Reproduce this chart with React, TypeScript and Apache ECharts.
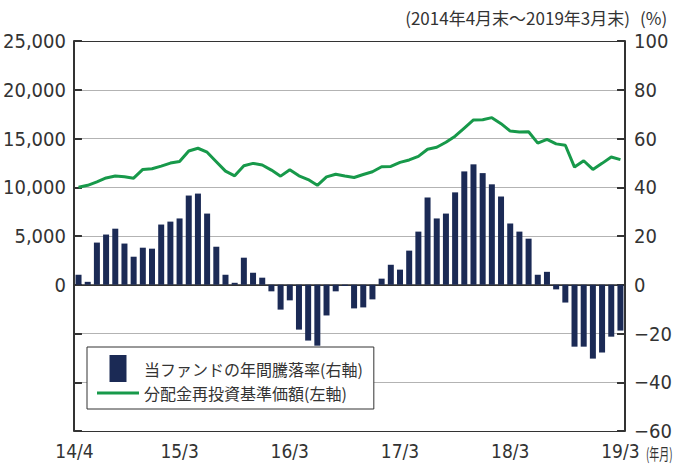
import React, { useEffect, useRef } from 'react';
import * as echarts from 'echarts';

const categories = [
  '14/4', '14/5', '14/6', '14/7', '14/8', '14/9', '14/10', '14/11', '14/12', '15/1', '15/2', '15/3',
  '15/4', '15/5', '15/6', '15/7', '15/8', '15/9', '15/10', '15/11', '15/12', '16/1', '16/2', '16/3',
  '16/4', '16/5', '16/6', '16/7', '16/8', '16/9', '16/10', '16/11', '16/12', '17/1', '17/2', '17/3',
  '17/4', '17/5', '17/6', '17/7', '17/8', '17/9', '17/10', '17/11', '17/12', '18/1', '18/2', '18/3',
  '18/4', '18/5', '18/6', '18/7', '18/8', '18/9', '18/10', '18/11', '18/12', '19/1', '19/2', '19/3',
];

const shownLabels = ['14/4', '15/3', '16/3', '17/3', '18/3', '19/3'];

// 当ファンドの年間騰落率 (%), right axis
const annualReturn = [
  4.1, 1.2, 17.3, 20.6, 23.0, 16.9, 11.5, 15.2, 14.8, 24.7, 25.9, 27.2,
  36.6, 37.4, 29.2, 15.6, 4.1, 0.8, 11.1, 4.9, 2.9, -2.7, -10.2, -6.4,
  -18.4, -22.9, -25.0, -12.6, -2.7, -0.5, -9.7, -9.3, -6.0, 2.5, 8.2, 6.2,
  14.0, 21.8, 35.8, 27.2, 29.2, 37.9, 46.5, 49.4, 45.8, 41.2, 36.2, 25.1,
  21.8, 18.9, 4.1, 5.3, -1.9, -7.3, -25.4, -25.4, -30.3, -27.8, -21.3, -18.8,
];

// 分配金再投資基準価額 (円), left axis
const navReinvested = [
  10000, 10200, 10550, 10950, 11150, 11070, 10930, 11830, 11900, 12170, 12480, 12650,
  13720, 14000, 13590, 12620, 11650, 11170, 12200, 12450, 12280, 11760, 11140, 11800,
  11170, 10790, 10200, 11070, 11340, 11150, 11000, 11310, 11590, 12100, 12140, 12550,
  12800, 13170, 13900, 14100, 14620, 15240, 16070, 16900, 16920, 17140, 16520, 15760,
  15660, 15690, 14520, 14900, 14450, 14310, 12070, 12720, 11830, 12450, 13100, 12830,
];

const seriesNames = ['当ファンドの年間騰落率(右軸)', '分配金再投資基準価額(左軸)'];
const titleText = '(2014年4月末～2019年3月末)';
const unitText = '(%)';
const xUnitText = '(年月)';

const NUM_FONT = "'Liberation Sans Narrow','DejaVu Sans Condensed',Roboto,sans-serif";
const CJK_FONT = "'Noto Sans CJK JP','Noto Sans',sans-serif";
const TEXT_COLOR = '#333';
const BAR_COLOR = '#1b2a55';
const LINE_COLOR = '#17994a';

export default function App() {
  const ref = useRef<HTMLDivElement>(null);

  useEffect(() => {
    if (!ref.current) return;
    const chart = echarts.init(ref.current, undefined, { renderer: 'svg' });
    const option: any = {
      animation: false,
      textStyle: { fontFamily: CJK_FONT },
      title: [
        {
          text: titleText,
          right: 45,
          top: 9,
          padding: 0,
          textStyle: { fontSize: 17, fontWeight: 'normal', color: TEXT_COLOR, fontFamily: CJK_FONT },
        },
        {
          text: unitText,
          left: 640,
          top: 9,
          padding: 0,
          textStyle: { fontSize: 17, fontWeight: 'normal', color: TEXT_COLOR, fontFamily: CJK_FONT },
        },
      ],
      grid: { left: 69, right: 41, top: 41, bottom: 38 },
      legend: {
        left: 87,
        top: 347,
        orient: 'vertical',
        padding: [8, 11, 8, 10],
        itemGap: 3,
        itemWidth: 42,
        itemHeight: 27,
        backgroundColor: '#fff',
        borderColor: '#333',
        borderWidth: 1,
        borderRadius: 0,
        textStyle: { fontSize: 16, color: TEXT_COLOR, fontFamily: CJK_FONT },
        data: [
          { name: seriesNames[0], icon: 'path://M0,0H17V27H0Z' },
          { name: seriesNames[1], icon: 'path://M0,0H42V3H0Z' },
        ],
      },
      graphic: [
        {
          type: 'text',
          x: 646,
          y: 453,
          scaleX: 0.62,
          style: {
            text: xUnitText,
            fontSize: 16,
            fontFamily: CJK_FONT,
            fill: TEXT_COLOR,
            verticalAlign: 'middle',
            align: 'left',
          },
        },
      ],
      xAxis: {
        type: 'category',
        data: categories,
        boundaryGap: true,
        axisLine: { lineStyle: { color: '#333', width: 1.5 } },
        axisTick: { show: false },
        splitLine: { show: false },
        axisLabel: {
          interval: (_i: number, v: string) => shownLabels.includes(v),
          formatter: (v: string) => (v === categories[0] ? '{a|' + v + '}' : v),
          rich: {
            a: { padding: [0, 8, 0, 0], fontSize: 19, fontFamily: NUM_FONT, color: TEXT_COLOR },
          },
          margin: 10,
          fontSize: 19,
          fontFamily: NUM_FONT,
          color: TEXT_COLOR,
        },
      },
      yAxis: [
        {
          type: 'value',
          position: 'left',
          min: -15000,
          max: 25000,
          interval: 5000,
          axisLine: { show: true, lineStyle: { color: '#333', width: 2 } },
          axisTick: { show: true, inside: true, length: 8, lineStyle: { color: '#333', width: 2 } },
          axisLabel: {
            formatter: (v: number) => (v >= 0 ? v.toLocaleString('en-US') : ''),
            margin: 8,
            fontSize: 20,
            fontFamily: NUM_FONT,
            color: TEXT_COLOR,
          },
          splitLine: {
            show: true,
            lineStyle: {
              width: 1,
              color: ['#333', '#b3b3b3', '#b3b3b3', '#333', '#b3b3b3', '#b3b3b3', '#b3b3b3', '#b3b3b3', '#333'],
            },
          },
        },
        {
          type: 'value',
          position: 'right',
          min: -60,
          max: 100,
          interval: 20,
          axisLine: { show: true, lineStyle: { color: '#333', width: 2 } },
          axisTick: { show: true, inside: true, length: 8, lineStyle: { color: '#333', width: 2 } },
          axisLabel: {
            formatter: (v: number) => (v < 0 ? '\u2212' + Math.abs(v) : String(v)),
            margin: 9,
            fontSize: 20,
            fontFamily: NUM_FONT,
            color: TEXT_COLOR,
          },
          splitLine: { show: false },
        },
      ],
      series: [
        {
          name: seriesNames[0],
          type: 'bar',
          yAxisIndex: 1,
          data: annualReturn,
          barWidth: 6,
          itemStyle: { color: BAR_COLOR },
        },
        {
          name: seriesNames[1],
          type: 'line',
          yAxisIndex: 0,
          data: navReinvested,
          symbol: 'none',
          showSymbol: false,
          lineStyle: { color: LINE_COLOR, width: 3 },
          itemStyle: { color: LINE_COLOR },
        },
      ],
    };
    chart.setOption(option);
    return () => chart.dispose();
  }, []);

  return (
    <div
      ref={ref}
      style={{ position: 'absolute', left: 0, top: 0, width: 675, height: 469, background: '#fff' }}
    />
  );
}
